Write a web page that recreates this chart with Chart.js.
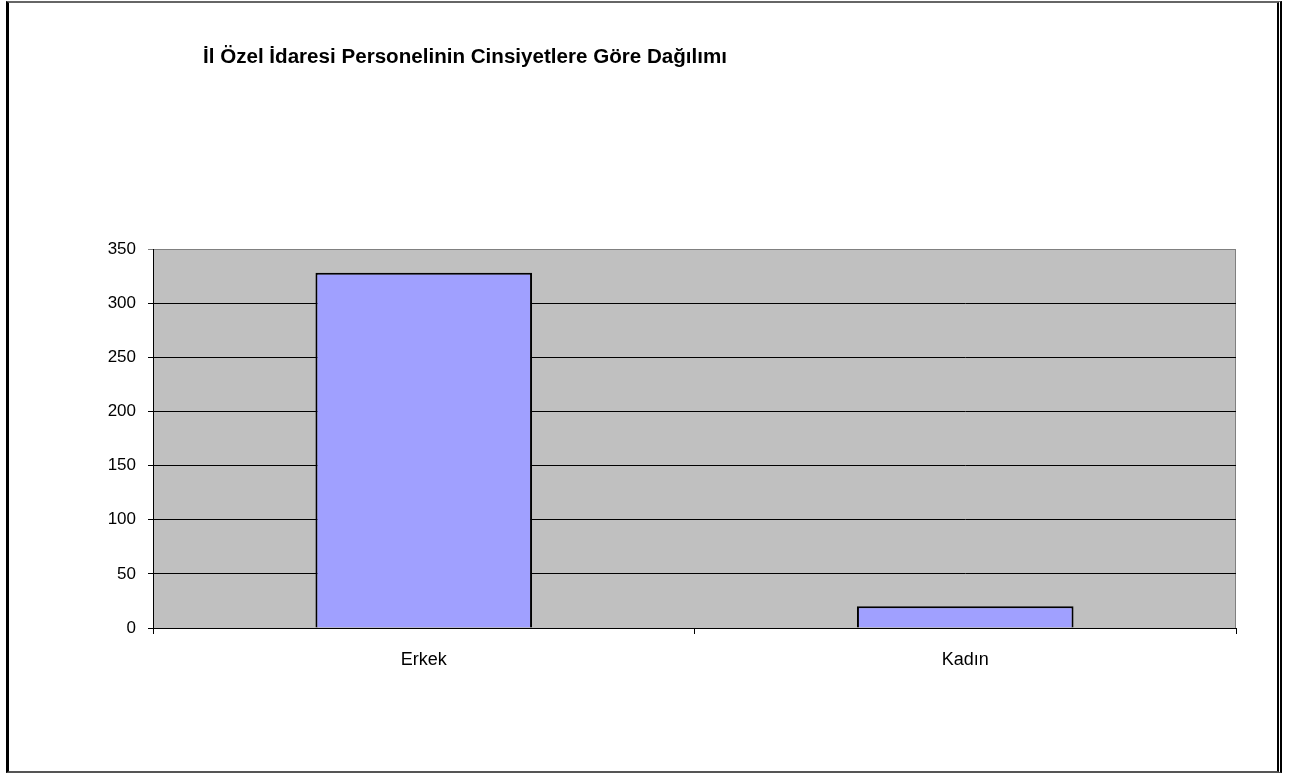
<!DOCTYPE html>
<html>
<head>
<meta charset="utf-8">
<script src="https://cdn.jsdelivr.net/npm/chart.js@4/dist/chart.umd.min.js"></script>
<style>
    body { margin: 0; background: #fff; }
    #wrap { position: relative; width: 1302px; height: 774px; }
    #frame {
        position: absolute; left: 6px; top: 1px; width: 1268px; height: 768px;
        border-left: 3px solid #000; border-top: 2px solid #666;
        border-right: 5px double #000; border-bottom: 2px solid #555;
        pointer-events: none;
    }
    canvas { position: absolute; left: 0; top: 0; }
</style>
</head>
<body>
<div id="wrap">
    <canvas id="chart" width="1302" height="774"></canvas>
    <div id="frame"></div>
</div>
<script>
// data
let categories = ["Erkek", "Kadın"];
let values = [328, 20];
let yTicks = [0, 50, 100, 150, 200, 250, 300, 350];
let title = "İl Özel İdaresi Personelinin Cinsiyetlere Göre Dağılımı";

// gri arka plan + başlık
const plotBg = {
    id: 'plotBg',
    beforeDraw(chart) {
        let a = chart.chartArea
        let ctx = chart.ctx
        ctx.save()
        ctx.fillStyle = '#c0c0c0'
        ctx.fillRect(a.left, a.top, a.right - a.left, a.bottom - a.top)
        ctx.strokeStyle = '#808080'
        ctx.lineWidth = 1
        ctx.beginPath()
        ctx.moveTo(a.left, a.top + 0.5)
        ctx.lineTo(a.right - 0.5, a.top + 0.5)
        ctx.lineTo(a.right - 0.5, a.bottom)
        ctx.stroke()
        ctx.restore()
    },
    afterDraw(chart) {
        let ctx = chart.ctx
        ctx.save()
        ctx.fillStyle = '#000'
        ctx.font = 'bold 20px "Liberation Sans", Arial, sans-serif'
        ctx.textBaseline = 'alphabetic'
        // excel'deki yazı biraz dar, yatayda sıkıştır
        let w = ctx.measureText(title).width
        ctx.translate(203, 63)
        ctx.scale(524 / w, 1)
        ctx.fillText(title, 0, 0)
        ctx.restore()
    }
}

new Chart(document.getElementById('chart'), {
    type: 'bar',
    data: {
        labels: categories,
        datasets: [{
            data: values,
            backgroundColor: '#a0a0ff',
            borderColor: '#000',
            borderWidth: 2,
            borderSkipped: 'bottom',
            categoryPercentage: 1,
            barPercentage: 0.4
        }]
    },
    options: {
        responsive: false,
        animation: false,
        layout: { padding: { top: 249, right: 66, left: 0, bottom: 0 } },
        plugins: { legend: { display: false }, tooltip: { enabled: false } },
        scales: {
            x: {
                afterFit(s) { s.height = 146 },
                grid: { offset: true, drawOnChartArea: false, color: '#000', tickLength: 6 },
                border: { color: '#000', width: 1 },
                ticks: { color: '#000', padding: 15, font: { family: '"Liberation Sans", Arial', size: 18 } }
            },
            y: {
                min: 0, max: 350,
                afterFit(s) { s.width = 153 },
                afterBuildTicks(s) { s.ticks = yTicks.map(v => ({ value: v })) },
                grid: {
                    color: ctx => ctx.tick && ctx.tick.value === 350 ? '#808080' : '#000',
                    tickLength: 5
                },
                border: { color: '#000', width: 1 },
                ticks: { color: '#000', padding: 12, font: { family: '"Liberation Sans", Arial', size: 17 } }
            }
        }
    },
    plugins: [plotBg]
});
</script>
</body>
</html>
